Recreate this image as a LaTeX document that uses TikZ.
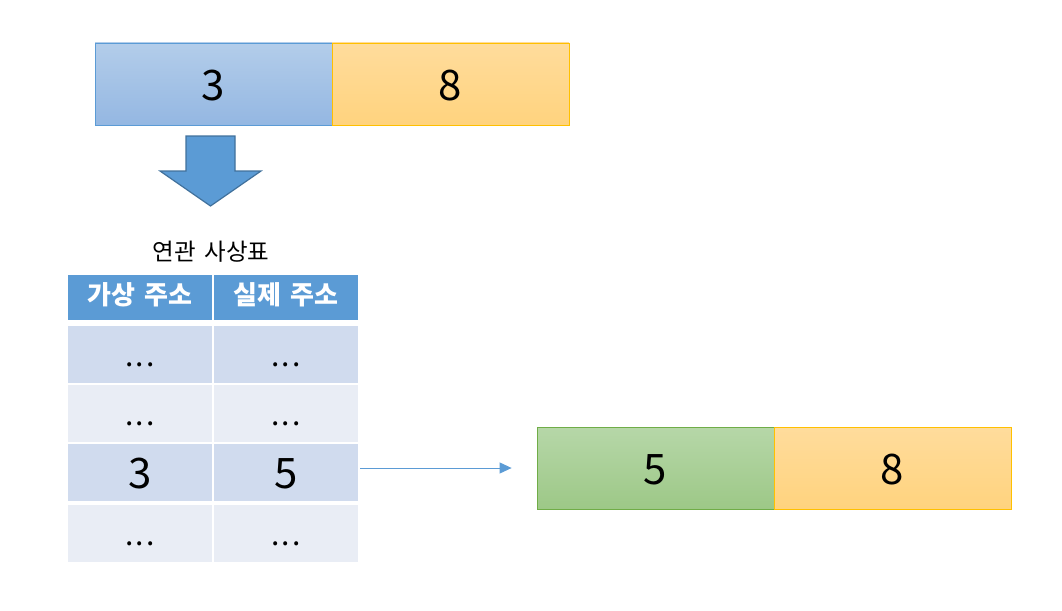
\documentclass[tikz,border=0pt]{standalone}
\usepackage{fontspec}
\setmainfont{Noto Sans CJK KR}
\usetikzlibrary{arrows.meta}
\definecolor{bluetop}{HTML}{B3CDEA}
\definecolor{bluebot}{HTML}{94B7E2}
\definecolor{blueline}{HTML}{5B9BD5}
\definecolor{orgtop}{HTML}{FFDC9C}
\definecolor{orgbot}{HTML}{FFD37E}
\definecolor{orgline}{HTML}{FFC000}
\definecolor{grntop}{HTML}{B6D7A8}
\definecolor{grnbot}{HTML}{9DC887}
\definecolor{grnline}{HTML}{70AD47}
\definecolor{hdr}{HTML}{5B9BD5}
\definecolor{rowA}{HTML}{D0DBEE}
\definecolor{rowB}{HTML}{E9EDF5}
\definecolor{arrline}{HTML}{41719C}
\tikzset{
  cellbox/.style={rectangle, inner sep=0pt, minimum width=237pt, minimum height=82pt, line width=0.8pt, font=\fontsize{42}{42}\selectfont, text height=32pt, text depth=0pt},
  bluebox/.style={cellbox, draw=blueline, top color=bluetop, bottom color=bluebot},
  orgbox/.style={cellbox, draw=orgline, top color=orgtop, bottom color=orgbot},
  grnbox/.style={cellbox, draw=grnline, top color=grntop, bottom color=grnbot},
  tcell/.style={rectangle, inner sep=0pt, minimum width=144pt},
  hcell/.style={tcell, fill=hdr, minimum height=45pt, text=white, font=\fontsize{26}{26}\selectfont\bfseries, text height=13pt, text depth=0pt},
  dcell/.style={tcell, minimum height=57pt, font=\fontsize{30}{30}\selectfont, text height=24pt, text depth=0pt},
  ncell/.style={tcell, minimum height=57pt, font=\fontsize{42}{42}\selectfont, text height=32pt, text depth=0pt},
}
\newcommand{\dd}{.\hspace{2pt}.\hspace{2pt}.}
\newcommand{\wsp}{\hspace{0.38em}}
\begin{document}
\begin{tikzpicture}[x=1pt,y=-1pt]
\useasboundingbox (0,0) rectangle (1062,610);
% top record
\node[bluebox] (v3) at (213.5,84) {3};
\node[orgbox] (v8) at (450.5,84) {8};
% down arrow
\path[fill=hdr, draw=arrline, line width=1.2pt, line join=miter]
  (186,136) -- (235,136) -- (235,171) -- (261,171) -- (210.5,206) -- (160,171) -- (186,171) -- cycle;
% title
\node[font=\fontsize{23.5}{23.5}\selectfont] (title) at (211,252) {연관\wsp 사상표};
% table header
\node[hcell] (h1) at (140,297.5) {가상\wsp 주소};
\node[hcell] (h2) at (286,297.5) {실제\wsp 주소};
% rows
\node[dcell, fill=rowA] (a1) at (140,354) {\dd};
\node[dcell, fill=rowA] (b1) at (286,354) {\dd};
\node[dcell, fill=rowB] (a2) at (140,413) {\dd};
\node[dcell, fill=rowB] (b2) at (286,413) {\dd};
\node[ncell, fill=rowA] (a3) at (140,472.5) {3};
\node[ncell, fill=rowA] (b3) at (286,472.5) {5};
\node[dcell, fill=rowB] (a4) at (140,533) {\dd};
\node[dcell, fill=rowB] (b4) at (286,533) {\dd};
% bottom record
\node[grnbox] (p5) at (655.5,468) {5};
\node[orgbox] (p8) at (892.5,468) {8};
% connector
\draw[blueline, line width=1pt, -{Triangle[length=12pt,width=11pt]}, shorten <=2pt, shorten >=25pt]
  (b3.east |- p5.west) -- (p5.west);
\end{tikzpicture}
\end{document}
